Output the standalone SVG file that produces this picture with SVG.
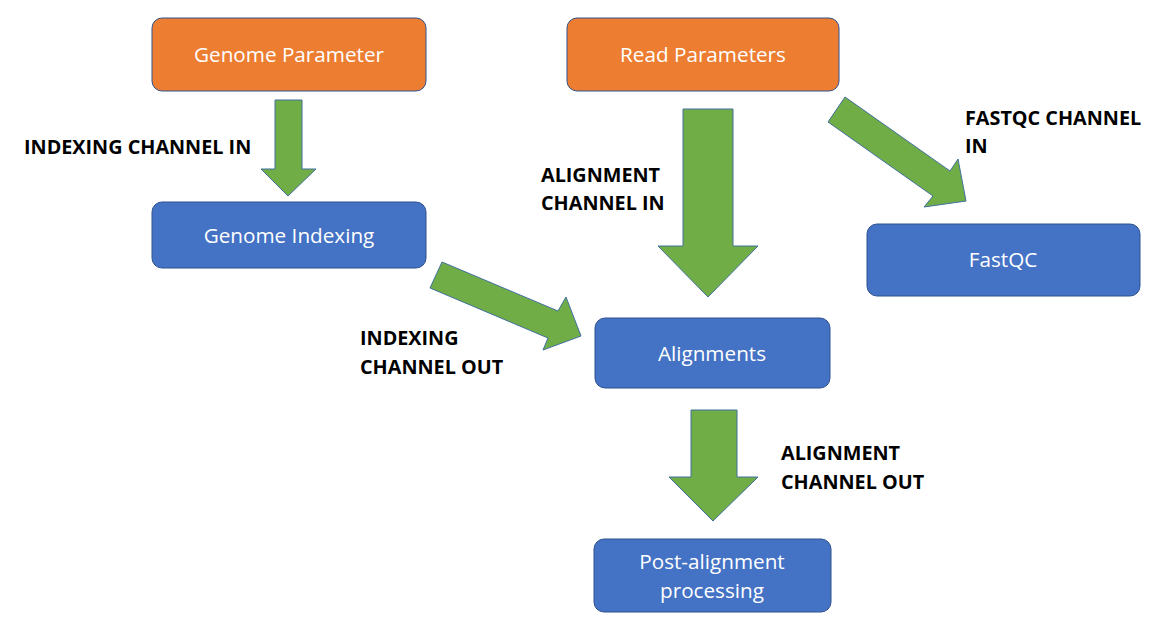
<svg xmlns="http://www.w3.org/2000/svg" width="1156" height="625" viewBox="0 0 1156 625">
<style>
.orange{fill:#ED7D31;stroke:#2F528F;stroke-width:1}
.blue{fill:#4472C4;stroke:#2F528F;stroke-width:1}
.arrow{fill:#70AD47;stroke:#41719C;stroke-width:1}
.nt{font-family:"Open Sans","Liberation Sans",sans-serif;font-size:20.7px;fill:#ffffff;text-anchor:middle}
.lbl{font-family:"Open Sans","Liberation Sans",sans-serif;font-size:19.8px;font-weight:bold;fill:#000000}
</style>
<rect width="1156" height="625" fill="#ffffff"/>
<g id="connectors">
<polygon class="arrow" points="275,100 302,100 302,169 316,169 288,196 261,169 275,169"/>
<polygon class="arrow" points="683,109 733,109 733,246 758,246 708,297 658,246 683,246"/>
<polygon class="arrow" points="691,410 737,410 737,477 758,477 713,521 669,477 691,477"/>
<polygon class="arrow" points="442,262 558,311 566,297 581,336 543,350 548,338 430,288"/>
<polygon class="arrow" points="845,97 950,171 958,159 966,201 924,207 933,196 828,122"/>
<text class="lbl" x="24" y="154">INDEXING CHANNEL IN</text>
<text class="lbl" x="541" y="182">ALIGNMENT</text>
<text class="lbl" x="541" y="210">CHANNEL IN</text>
<text class="lbl" x="965" y="125">FASTQC CHANNEL</text>
<text class="lbl" x="965" y="153">IN</text>
<text class="lbl" x="360" y="345">INDEXING</text>
<text class="lbl" x="360" y="374">CHANNEL OUT</text>
<text class="lbl" x="781" y="460">ALIGNMENT</text>
<text class="lbl" x="781" y="489">CHANNEL OUT</text>
</g>
<g id="genome-parameter">
<rect class="orange" x="152" y="18" width="274" height="73" rx="10"/>
<text class="nt" x="289" y="62">Genome Parameter</text>
</g>
<g id="read-parameters">
<rect class="orange" x="567" y="18" width="272" height="73" rx="10"/>
<text class="nt" x="703" y="62">Read Parameters</text>
</g>
<g id="genome-indexing">
<rect class="blue" x="152" y="202" width="274" height="66" rx="10"/>
<text class="nt" x="289" y="243">Genome Indexing</text>
</g>
<g id="fastqc">
<rect class="blue" x="867" y="224" width="273" height="72" rx="10"/>
<text class="nt" x="1003" y="267">FastQC</text>
</g>
<g id="alignments">
<rect class="blue" x="595" y="318" width="235" height="70" rx="10"/>
<text class="nt" x="712" y="361">Alignments</text>
</g>
<g id="post-alignment">
<rect class="blue" x="594" y="539" width="237" height="73" rx="10"/>
<text class="nt" x="712" y="569">Post-alignment</text>
<text class="nt" x="712" y="598">processing</text>
</g>
</svg>
